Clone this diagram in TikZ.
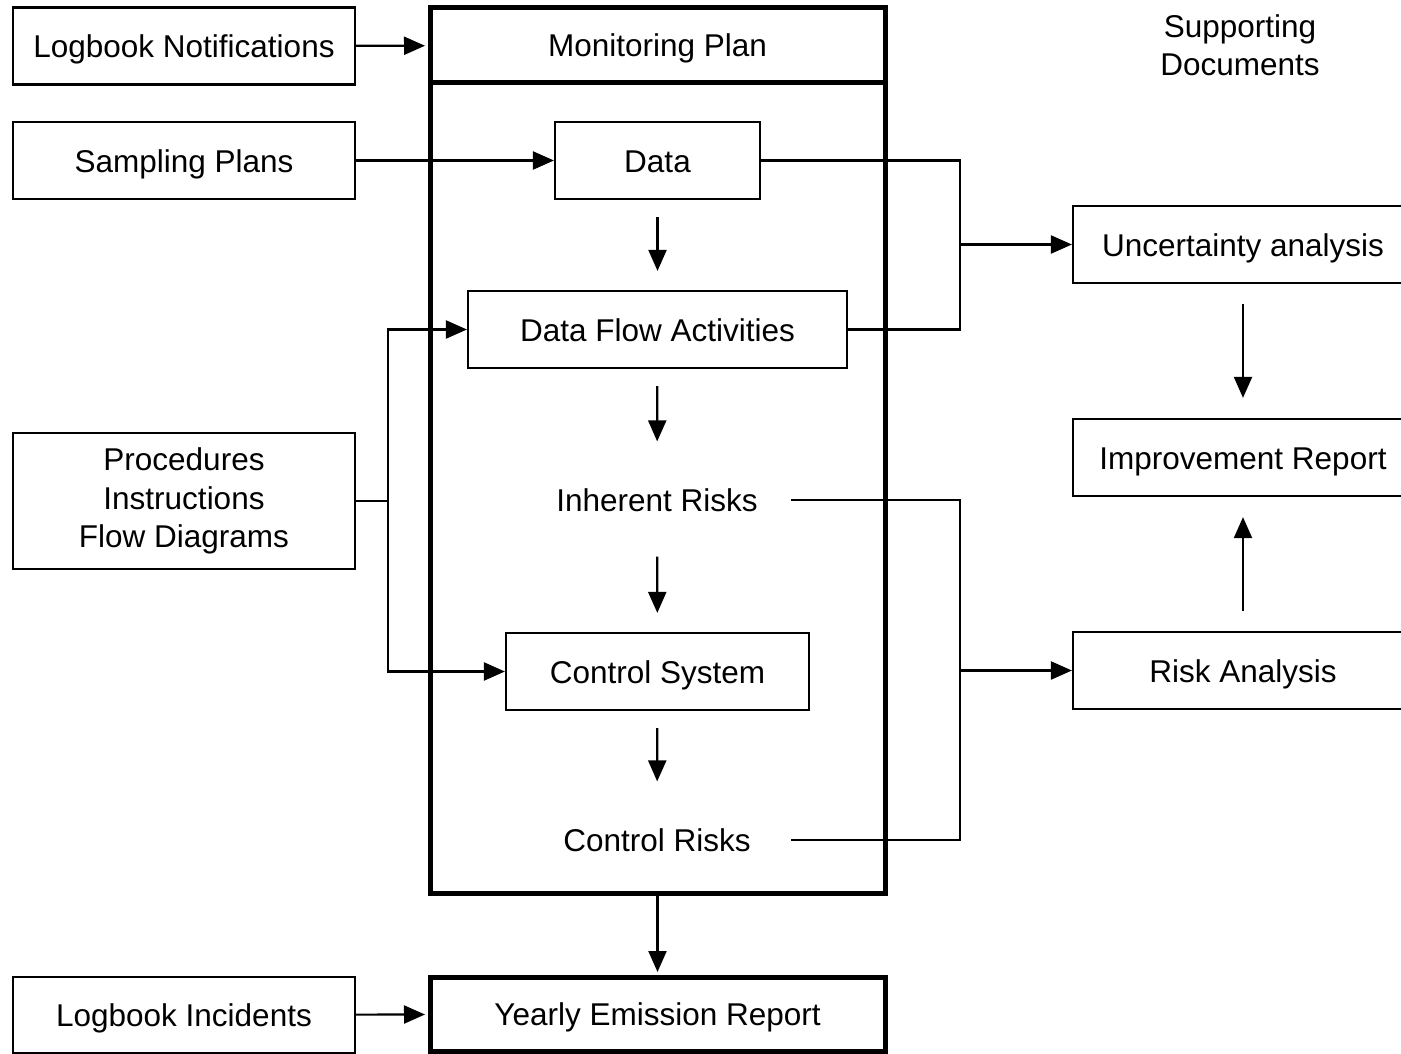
\documentclass[tikz,border=0pt]{standalone}
\usepackage{fontspec}
\setmainfont{Liberation Sans}
\usetikzlibrary{arrows.meta}

\begin{document}
\begin{tikzpicture}[x=1pt, y=-1pt,
    line width=2.2pt, >={Triangle[length=21pt,width=18pt]},
    every node/.style={font=\fontsize{31.5}{38.5}\selectfont, align=center},
    onerow/.style={text height=23pt, text depth=0pt},
    box/.style={draw, line width=2.2pt, minimum height=77pt, onerow},
    thickbox/.style={draw, line width=5pt, onerow},
    plain/.style={minimum width=266pt, minimum height=77pt, onerow}]
      \useasboundingbox (0,0) rectangle (1401,1054);

      \node[box, minimum width=342pt] (lognot) at (184,46) {Logbook Notifications};
      \node[box, minimum width=342pt] (sampling) at (184,160.5) {Sampling Plans};
      \node[draw, minimum width=342pt, minimum height=136pt] (proc) at (184,501)
        {Procedures\\Instructions\\Flow Diagrams};
      \node[box, minimum width=342pt, minimum height=76pt] (logincid) at (184,1015) {Logbook Incidents};

      \node[thickbox, minimum width=455pt, minimum height=885pt] (frame) at (657.5,450.5) {};
      \node[thickbox, minimum width=455pt, minimum height=75pt] (mplan) at (657.5,45.5) {Monitoring Plan};
      \node[box, minimum width=205pt] (data) at (657.5,160.5) {Data};
      \node[box, minimum width=379pt] (dfa) at (657.5,329.5) {Data Flow Activities};
      \node[plain] (inh) at (657,500) {Inherent Risks};
      \node[box, minimum width=303pt] (ctrl) at (657.5,671.5) {Control System};
      \node[plain] (ctrlrisk) at (657,840) {Control Risks};
      \node[thickbox, minimum width=455pt, minimum height=74pt] (yearly) at (657.5,1014) {Yearly Emission Report};

      \node (supp) at (1240,45) {Supporting\\Documents};
      \node[box, minimum width=340pt] (unc) at (1243,244.5) {Uncertainty analysis};
      \node[box, minimum width=340pt] (imp) at (1243,457.5) {Improvement Report};
      \node[box, minimum width=340pt] (risk) at (1243,670.5) {Risk Analysis};

      \coordinate (jdata) at (960,244.5);
      \coordinate (jrisk) at (960,670.5);
      \coordinate (split) at (388,501);

      \draw[->, shorten >=2.5pt] (lognot) -- (mplan);
      \draw[->] (sampling) -- (data);
      \draw (data.east) -| (jdata) |- (dfa.east);
      \draw[->] (jdata) -- (unc);
      \draw (proc.east) -- (split);
      \draw[->] (split) |- (dfa.west);
      \draw[->] (split) |- (ctrl.west);
      \draw (inh.east) -| (jrisk) |- (ctrlrisk.east);
      \draw[->] (jrisk) -- (risk);

      \draw[->, shorten <=17pt, shorten >=19pt] (data) -- (dfa);
      \draw[->, shorten <=17pt, shorten >=19pt] (dfa) -- (inh);
      \draw[->, shorten <=17pt, shorten >=19pt] (inh) -- (ctrl);
      \draw[->, shorten <=17pt, shorten >=19pt] (ctrl) -- (ctrlrisk);
      \draw[->, shorten <=20pt, shorten >=20pt] (unc) -- (imp);
      \draw[->, shorten <=20pt, shorten >=20pt] (risk) -- (imp);
      \draw[->, shorten >=2.5pt] (frame) -- (yearly);
      \draw[->, shorten >=2.5pt] (logincid) -- (yearly);
    \end{tikzpicture}
\end{document}
